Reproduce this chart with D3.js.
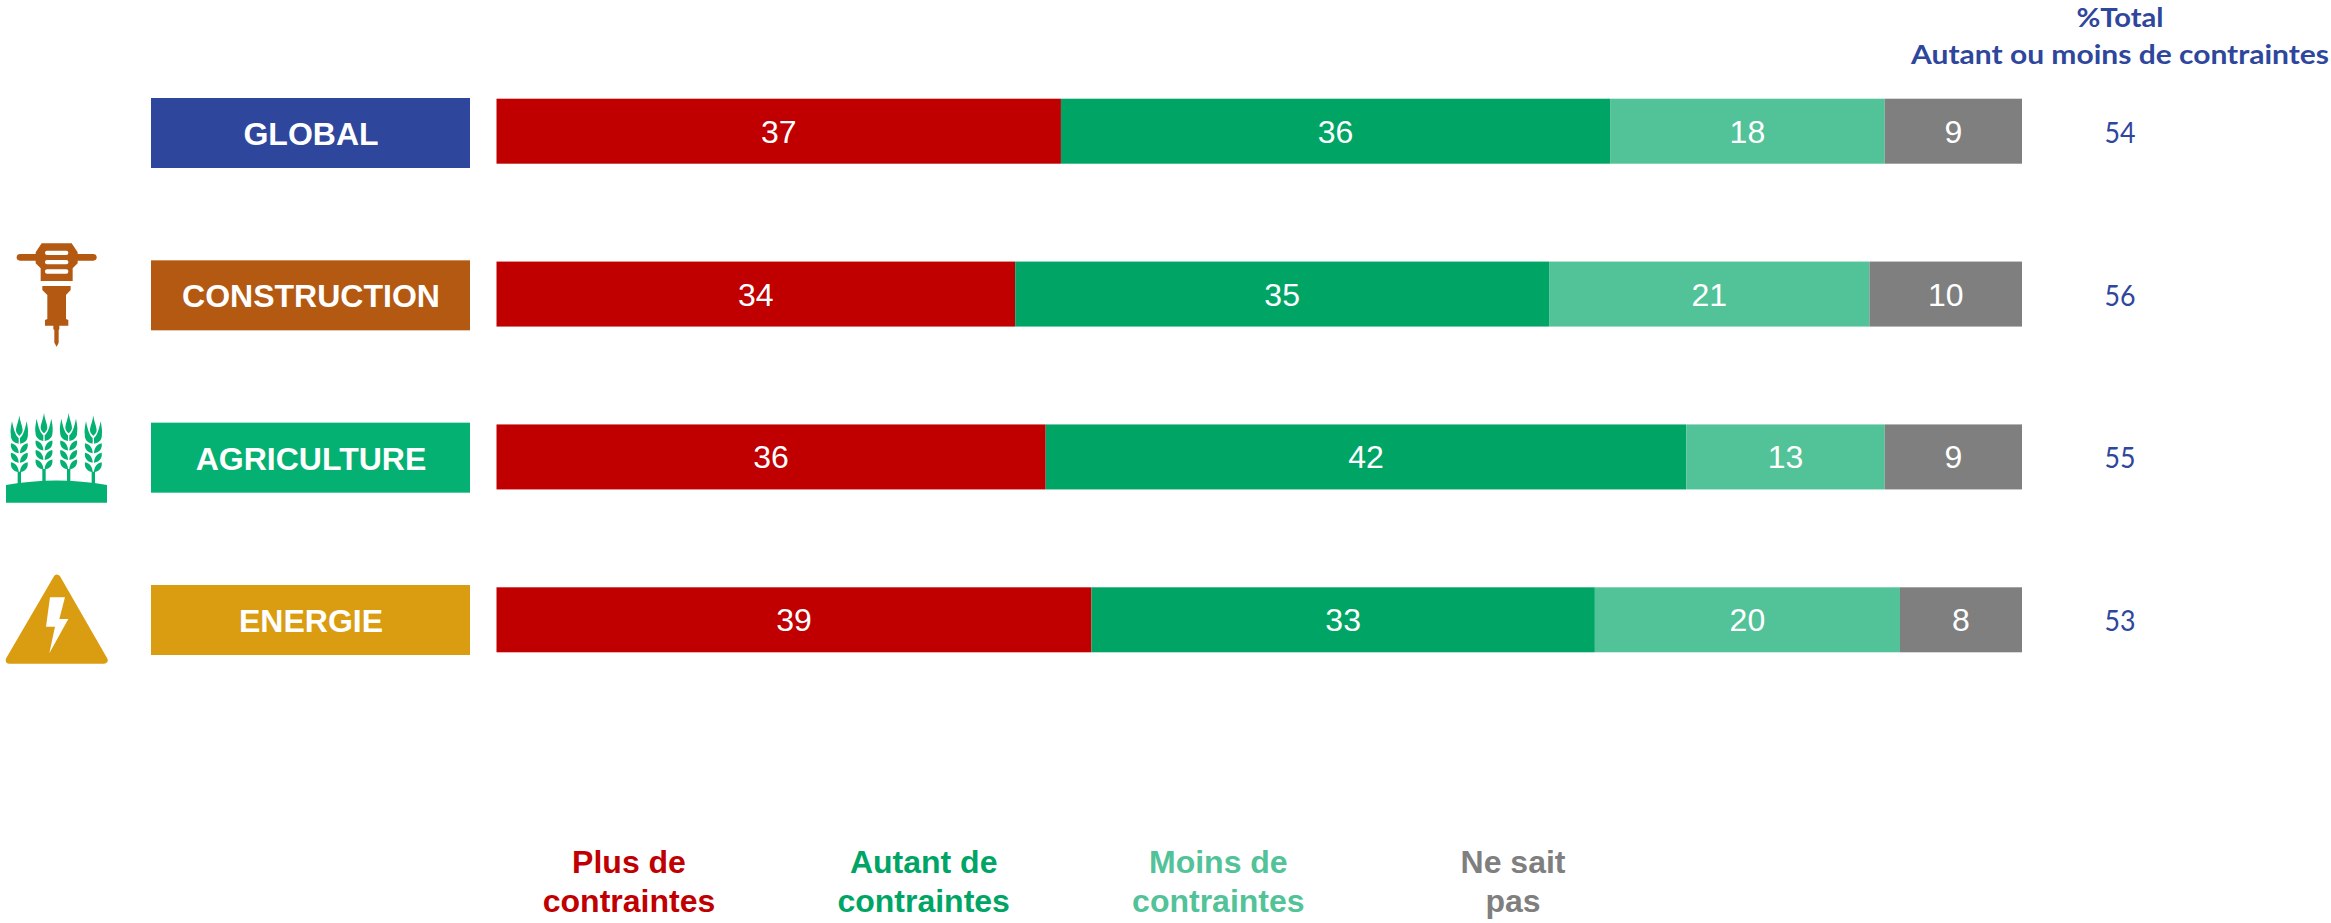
<!DOCTYPE html>
<html>
<head>
<meta charset="utf-8">
<script src="https://cdn.jsdelivr.net/npm/d3@7"></script>
<style>
  html, body { margin: 0; padding: 0; background: #fff; overflow: hidden; }
  svg { display: block; }
</style>
</head>
<body>
<svg width="2331" height="923"></svg>
<script>
// Data
const categories = ["GLOBAL", "CONSTRUCTION", "AGRICULTURE", "ENERGIE"];
const plusContraintes = [37, 34, 36, 39];
const autantContraintes = [36, 35, 42, 33];
const moinsContraintes = [18, 21, 13, 20];
const neSaitPas = [9, 10, 9, 8];
const totalAutantMoins = [54, 56, 55, 53];
const seriesNames = ["plus", "autant", "moins", "nsp"];
const legendLabels = [["Plus de", "contraintes"], ["Autant de", "contraintes"], ["Moins de", "contraintes"], ["Ne sait", "pas"]];
const headerLines = ["%Total", "Autant ou moins de contraintes"];

// Colors
const seriesColors = ["#c00000", "#00a566", "#52c298", "#7f7f7f"];
const categoryColors = ["#2e469c", "#b45912", "#04b072", "#da9c10"];
const blue = "#2e469c";

const svg = d3.select("svg");
const arial = "'Liberation Sans', Arial, sans-serif";
const calibri = "Lato, 'Open Sans', sans-serif";

// Scales
const x = d3.scaleLinear().domain([0, 100]).range([496.5, 2022]);
const y = d3.scalePoint().domain(categories).range([131.2, 619.8]);
// the coloured labels are spaced a little tighter than the bars
const labelY = d3.scalePoint().domain(categories).range([133, 620]);
const color = d3.scaleOrdinal().domain(seriesNames).range(seriesColors);
const barH = 65;
const labelH = 70;

const rows = categories.map((c, i) => ({
  category: c,
  plus: plusContraintes[i],
  autant: autantContraintes[i],
  moins: moinsContraintes[i],
  nsp: neSaitPas[i],
  total: totalAutantMoins[i],
}));
const stacked = d3.stack().keys(seriesNames)(rows);

// Category labels
const labels = svg.append("g").selectAll("g").data(rows).enter().append("g");
labels
  .append("rect")
  .attr("x", 151)
  .attr("width", 319)
  .attr("y", (d) => labelY(d.category) - labelH / 2)
  .attr("height", labelH)
  .attr("fill", (d, i) => categoryColors[i]);
labels
  .append("text")
  .attr("x", 311)
  .attr("y", (d) => labelY(d.category) + 12)
  .attr("text-anchor", "middle")
  .attr("font-family", arial)
  .attr("font-weight", "bold")
  .attr("font-size", 32)
  .attr("fill", "#fff")
  .text((d) => d.category);

// Bars
const layers = svg.append("g").selectAll("g").data(stacked).enter().append("g")
  .attr("fill", (d) => color(d.key));
layers
  .selectAll("rect")
  .data((d) => d)
  .enter()
  .append("rect")
  .attr("x", (d) => x(d[0]))
  .attr("width", (d) => x(d[1]) - x(d[0]))
  .attr("y", (d) => y(d.data.category) - barH / 2)
  .attr("height", barH);
layers
  .selectAll("text")
  .data((d) => d)
  .enter()
  .append("text")
  .attr("x", (d) => (x(d[0]) + x(d[1])) / 2)
  .attr("y", (d) => y(d.data.category) + 11.5)
  .attr("text-anchor", "middle")
  .attr("font-family", arial)
  .attr("font-size", 32)
  .attr("fill", "#fff")
  .text((d) => d[1] - d[0]);

// Right hand column
svg.append("g").selectAll("text").data(rows).enter().append("text")
  .attr("x", 2120)
  .attr("y", (d) => y(d.category) + 11.5)
  .attr("text-anchor", "middle")
  .attr("font-family", calibri)
  .attr("font-size", 29)
  .attr("textLength", 31)
  .attr("lengthAdjust", "spacingAndGlyphs")
  .attr("fill", blue)
  .text((d) => d.total);
const headerWidths = [87, 418];
svg.append("g").selectAll("text").data(headerLines).enter().append("text")
  .attr("x", 2120)
  .attr("y", (d, i) => 27 + i * 37)
  .attr("text-anchor", "middle")
  .attr("font-family", calibri)
  .attr("font-weight", "bold")
  .attr("font-size", 27)
  .attr("textLength", (d, i) => headerWidths[i])
  .attr("lengthAdjust", "spacingAndGlyphs")
  .attr("fill", blue)
  .text((d) => d);

// Legend
const legendX = d3.scalePoint().domain(seriesNames).range([629, 1513]);
const legend = svg.append("g").selectAll("text").data(seriesNames).enter().append("text")
  .attr("text-anchor", "middle")
  .attr("font-family", arial)
  .attr("font-weight", "bold")
  .attr("font-size", 32)
  .attr("fill", (d) => color(d));
legend.each(function (d, i) {
  d3.select(this).selectAll("tspan").data(legendLabels[i]).enter().append("tspan")
    .attr("x", legendX(d))
    .attr("y", (t, j) => 873 + j * 38.5)
    .text((t) => t);
});

// Icons, drawn at 3x and scaled down
const hammer = svg.append("g").attr("transform", "translate(0,220) scale(0.3333)").attr("fill", categoryColors[1]);
hammer.append("rect").attr("x", 50).attr("y", 102).attr("width", 240).attr("height", 20).attr("rx", 10);
hammer.append("path").attr("d", "M125,70H215L233,97V130L218,145V183H122V145L107,130V97Z");
[92, 120, 148].forEach((t) => {
  hammer.append("rect").attr("x", 135).attr("y", t).attr("width", 70).attr("height", 13).attr("rx", 6).attr("fill", "#fff");
});
hammer.append("path").attr("d", "M127,198H212V210L198,225V297L205,300V317H178V328L176,330V368L170,380L163,368V330L160,328V317H135V300L142,297V225L127,210Z");

const wheat = svg.append("g").attr("transform", "translate(0,400) scale(0.3333)").attr("fill", categoryColors[2]);
wheat.append("path").attr("d", "M18,255Q170,228 321,255V308H18Z");
[[58, 46], [132, 38], [206, 38], [280, 46]].forEach(([cx, tip]) => {
  const s = wheat.append("g").attr("transform", `translate(${cx},0)`);
  const shift = tip - 46;
  s.append("rect").attr("x", -5).attr("y", 215 + shift).attr("width", 10).attr("height", 40 - shift);
  // grain head
  s.append("path").attr("d", `M0,${tip}C2,${tip + 18} 10,${tip + 35} 10,${tip + 45}C10,${tip + 53} 4,${tip + 58} 0,${tip + 62}C-4,${tip + 58} -10,${tip + 53} -10,${tip + 45}C-10,${tip + 35} -2,${tip + 18} 0,${tip}Z`);
  [-1, 1].forEach((side) => {
    const half = s.append("g").attr("transform", `scale(${side},1)`);
    half.append("path").attr("d", `M22,${tip + 18}C25,${tip + 35} 28,${tip + 50} 25,${tip + 58}C20,${tip + 70} 12,${tip + 76} 2,${tip + 80}V${tip + 68}C10,${tip + 62} 16,${tip + 48} 22,${tip + 18}Z`);
    [0, 1, 2, 3].forEach((k) => {
      const b = 128 + k * 28.5 + shift;
      half.append("path").attr("d", `M2,${b + 3}C2,${b - 12} 10,${b - 24} 25,${b - 27}C28,${b - 10} 17,${b + 1} 2,${b + 3}Z`);
    });
  });
});

const bolt = svg.append("g").attr("transform", "translate(0,400) scale(0.3333)");
bolt.append("path").attr("d", "M171,535L312,780H28Z")
  .attr("fill", categoryColors[3]).attr("stroke", categoryColors[3]).attr("stroke-width", 22).attr("stroke-linejoin", "round");
bolt.append("path").attr("d", "M150,592H195L178,657H205L148,760L165,680H138Z").attr("fill", "#fff");
</script>
</body>
</html>
